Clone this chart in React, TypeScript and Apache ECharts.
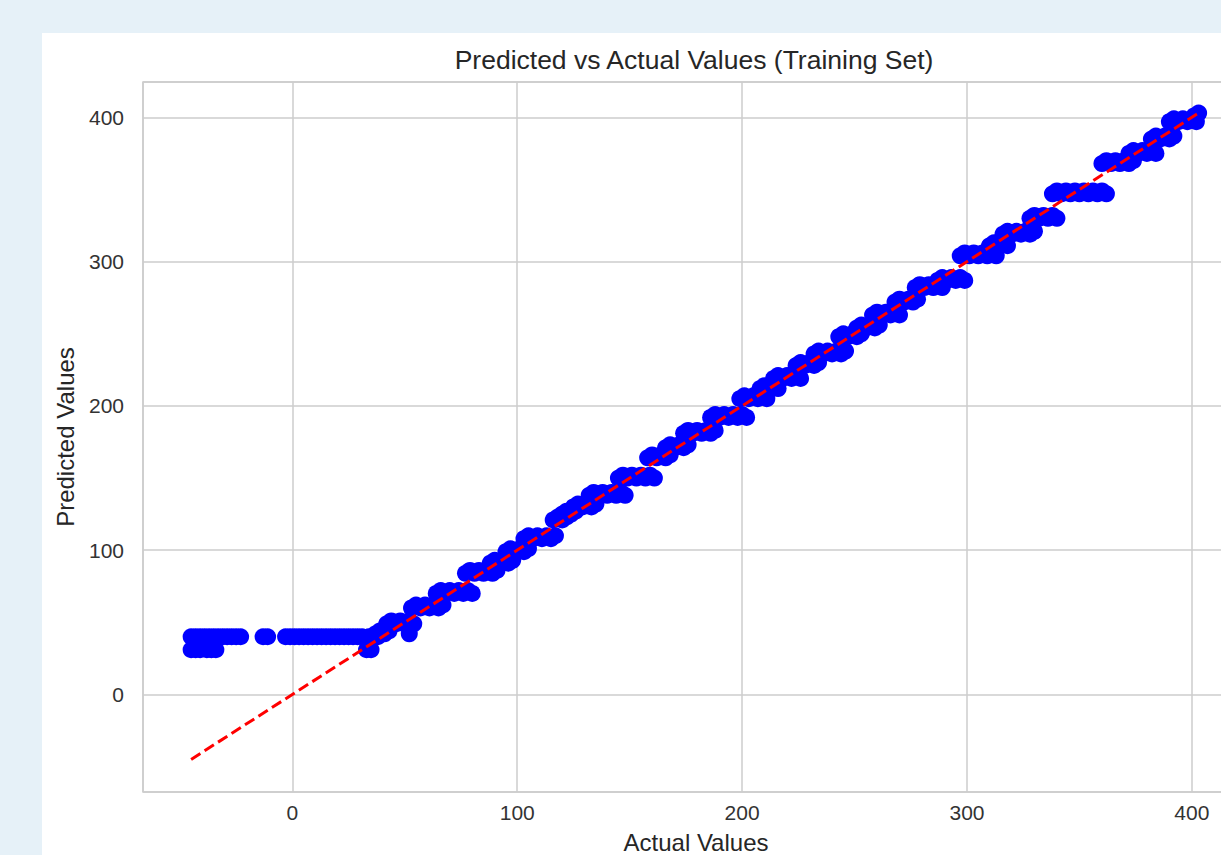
import React, { useEffect, useRef } from "react";
import * as echarts from "echarts";

// Actual values (x) and model predictions (y)
const actualValues: number[] = [
  -45, -43, -41, -39, -37, -35, -33, -31, -29, -27, -25, -23,
  -45, -43, -41, -38, -36, -34,
  -13, -11,
  -3, -1, 1, 3, 5, 7, 9, 11, 13, 15, 17, 19, 21, 23, 25, 27, 29, 31,
  33, 35,
  34, 36, 38,
  37, 39, 41, 43,
  42, 44, 46, 48, 50, 52, 54,
  52,
  53, 55, 57, 59, 61, 63, 65, 67,
  64, 66, 68, 70, 72, 74, 76, 78, 80,
  77, 79, 81, 83, 85, 87, 89, 91,
  88, 90, 92, 94, 96, 98,
  95, 97, 99, 101, 103, 105,
  103, 105, 107, 109, 111, 113, 115, 117,
  116, 118, 120, 122,
  120, 122, 124, 126,
  125, 127, 129, 131, 133, 135,
  132, 134, 136, 138, 140, 142, 144, 146, 148,
  145, 147, 149, 151, 153, 155, 157, 159, 161,
  158, 160, 162, 164, 166, 168,
  166, 168, 170, 172, 174, 176,
  174, 176, 178, 180, 182, 184, 186, 188,
  186, 188, 190, 192, 194, 196, 198, 200, 202,
  199, 201, 203, 205, 207, 209, 211,
  208, 210, 212, 214, 216,
  214, 216, 218, 220, 222, 224, 226,
  224, 226, 228, 230, 232, 234,
  232, 234, 236, 238, 240, 242, 244, 246,
  243, 245, 247, 249, 251, 253,
  251, 253, 255, 257, 259, 261,
  258, 260, 262, 264, 266, 268, 270,
  268, 270, 272, 274, 276, 278,
  277, 279, 281, 283, 285, 287, 289,
  287, 289, 291, 293, 295, 297, 299,
  297, 299, 301, 303, 305, 307, 309, 311, 313,
  310, 312, 314, 316, 318,
  316, 318, 320, 322, 324, 326, 328, 330,
  328, 330, 332, 334, 336, 338, 340,
  338, 340, 342, 344, 346, 348, 350, 352, 354, 356, 358, 360, 362,
  360, 362, 364, 366, 368, 370, 372, 374,
  372, 374, 376, 378, 380, 382, 384,
  382, 384, 386, 388, 390, 392,
  390, 392, 394, 396, 398, 400, 402,
  401, 403,
];

const predictedValues: number[] = [
  40, 40, 40, 40, 40, 40, 40, 40, 40, 40, 40, 40,
  31, 31, 31, 31, 31, 31,
  40, 40,
  40, 40, 40, 40, 40, 40, 40, 40, 40, 40, 40, 40, 40, 40, 40, 40, 40, 40,
  31, 31,
  40, 40, 40,
  42, 44, 42, 44,
  49, 51, 49, 51, 49, 51, 49,
  42,
  60, 62, 60, 62, 60, 62, 60, 62,
  70, 72, 70, 72, 70, 72, 70, 72, 70,
  84, 86, 84, 86, 84, 86, 84, 86,
  91, 93, 91, 93, 91, 93,
  99, 101, 99, 101, 99, 101,
  108, 110, 108, 110, 108, 110, 108, 110,
  121, 123, 121, 123,
  125, 127, 125, 127,
  130, 132, 130, 132, 130, 132,
  138, 140, 138, 140, 138, 140, 138, 140, 138,
  150, 152, 150, 152, 150, 152, 150, 152, 150,
  164, 166, 164, 166, 164, 166,
  171, 173, 171, 173, 171, 173,
  181, 183, 181, 183, 181, 183, 181, 183,
  192, 194, 192, 194, 192, 194, 192, 194, 192,
  205, 207, 205, 207, 205, 207, 205,
  212, 214, 212, 214, 212,
  219, 221, 219, 221, 219, 221, 219,
  228, 230, 228, 230, 228, 230,
  236, 238, 236, 238, 236, 238, 236, 238,
  248, 250, 248, 250, 248, 250,
  254, 256, 254, 256, 254, 256,
  263, 265, 263, 265, 263, 265, 263,
  272, 274, 272, 274, 272, 274,
  282, 284, 282, 284, 282, 284, 282,
  287, 289, 287, 289, 287, 289, 287,
  304, 306, 304, 306, 304, 306, 304, 306, 304,
  311, 313, 311, 313, 311,
  319, 321, 319, 321, 319, 321, 319, 321,
  330, 332, 330, 332, 330, 332, 330,
  347, 349, 347, 349, 347, 349, 347, 349, 347, 349, 347, 349, 347,
  368, 370, 368, 370, 368, 370, 368, 370,
  375, 377, 375, 377, 375, 377, 375,
  385, 387, 385, 387, 385, 387,
  397, 399, 397, 399, 397, 399, 397,
  401, 403,
];

// Ideal (y = x) reference line endpoints
const idealLineX: number[] = [-45, 403];
const idealLineY: number[] = [-45, 403];

const xTickValues: number[] = [0, 100, 200, 300, 400];
const yTickValues: number[] = [0, 100, 200, 300, 400];

const FONT = "'Liberation Sans', Arial, sans-serif";

export default function App() {
  const ref = useRef<HTMLDivElement>(null);

  useEffect(() => {
    if (!ref.current) return;
    const chart = echarts.init(ref.current, undefined, { renderer: "svg" });
    const scatterData = actualValues.map((a, i) => [a, predictedValues[i]]);
    const lineData = idealLineX.map((a, i) => [a, idealLineY[i]]);
    const fmt = (ticks: number[]) => (v: number) =>
      ticks.some((t) => Math.abs(t - v) < 1e-6) ? String(Math.round(v)) : "";

    chart.setOption({
      animation: false,
      backgroundColor: "#ffffff",
      textStyle: { fontFamily: FONT },
      title: {
        text: "Predicted vs Actual Values (Training Set)",
        left: "center",
        top: 13,
        padding: 0,
        textStyle: {
          fontFamily: FONT,
          fontSize: 26.5,
          fontWeight: "normal",
          color: "#262626",
        },
      },
      grid: {
        left: 101,
        top: 49,
        width: 1106,
        height: 710,
        show: true,
        borderColor: "#cccccc",
        borderWidth: 1.5,
        backgroundColor: "transparent",
        outerBoundsMode: "none",
        containLabel: false,
      },
      xAxis: {
        type: "value",
        min: -66.4,
        max: 425.4,
        splitNumber: 5,
        name: "Actual Values",
        nameLocation: "middle",
        nameGap: 38,
        nameTextStyle: { fontFamily: FONT, fontSize: 24, color: "#262626" },
        axisLine: { show: false },
        axisTick: { show: false },
        axisLabel: {
          margin: 10,
          fontFamily: FONT,
          fontSize: 21,
          color: "#333333",
          showMinLabel: false,
          showMaxLabel: false,
          formatter: fmt(xTickValues),
        },
        splitLine: { show: true, lineStyle: { color: "#cccccc", width: 1.5 } },
      },
      yAxis: {
        type: "value",
        min: -67.6,
        max: 424.5,
        splitNumber: 5,
        name: "Predicted Values",
        nameLocation: "middle",
        nameGap: 66,
        nameTextStyle: { fontFamily: FONT, fontSize: 24, color: "#262626" },
        axisLine: { show: false },
        axisTick: { show: false },
        axisLabel: {
          margin: 19,
          fontFamily: FONT,
          fontSize: 21,
          color: "#333333",
          showMinLabel: false,
          showMaxLabel: false,
          formatter: fmt(yTickValues),
        },
        splitLine: { show: true, lineStyle: { color: "#cccccc", width: 1.5 } },
      },
      series: [
        {
          type: "scatter",
          data: scatterData,
          symbol: "circle",
          symbolSize: 17,
          itemStyle: { color: "#0000ff", opacity: 1 },
          z: 2,
        },
        {
          type: "line",
          data: lineData,
          showSymbol: false,
          symbol: "none",
          lineStyle: { color: "#ff0000", width: 3, type: [11, 5] },
          z: 3,
        },
      ],
    });
    return () => chart.dispose();
  }, []);

  return (
    <div
      style={{
        position: "fixed",
        left: 0,
        top: 0,
        width: 1221,
        height: 855,
        overflow: "hidden",
        background: "#e6f1f8",
      }}
    >
      <div
        ref={ref}
        style={{
          position: "absolute",
          left: 42,
          top: 33,
          width: 1304,
          height: 822,
        }}
      />
    </div>
  );
}
